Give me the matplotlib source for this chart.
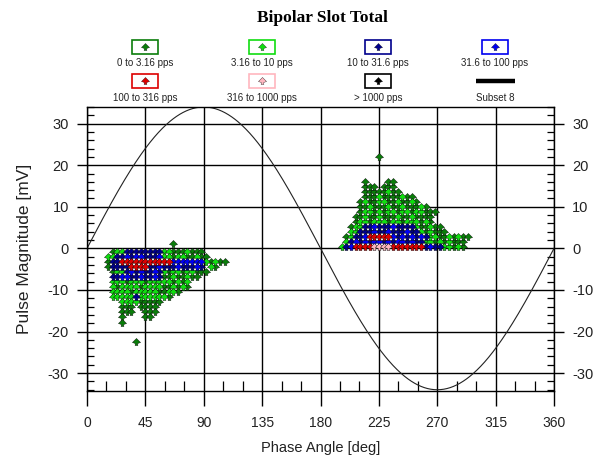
import matplotlib
matplotlib.use("Agg")
import matplotlib.pyplot as plt
import numpy as np
from matplotlib.patches import Rectangle
from matplotlib.path import Path
from matplotlib.ticker import MultipleLocator

plt.rcParams['font.family'] = ['Liberation Sans', 'DejaVu Sans']
plt.rcParams['axes.unicode_minus'] = False

# ---------------- data ----------------
TITLE = "Bipolar Slot Total"
X_LABEL = "Phase Angle [deg]"
Y_LABEL = "Pulse Magnitude [mV]"
X_TICKS = [0, 45, 90, 135, 180, 225, 270, 315, 360]
Y_TICKS = [-30, -20, -10, 0, 10, 20, 30]
X_LIM = (0, 360)
Y_LIM = (-34.3, 34.0)
SINE_AMPLITUDE = 34.0

CATEGORY_CODES = ['D', 'L', 'N', 'B', 'R', 'P', 'K']
CATEGORY_LABELS = ["0 to 3.16 pps", "3.16 to 10 pps", "10 to 31.6 pps",
                   "31.6 to 100 pps", "100 to 316 pps", "316 to 1000 pps",
                   "> 1000 pps"]
CATEGORY_COLORS = ['#0a7d0a', '#10dd10', '#00008c', '#0000f0',
                   '#dd0000', '#ffb6bf', '#000000']
SUBSET_LABEL = "Subset 8"

# negative half-cycle cluster: phase bins (deg), row magnitudes (mV), row codes
NEG_PHASE_BINS = [16.2, 19.8, 23.4, 27.0, 30.6, 34.2, 37.8, 41.4, 45.0, 48.6,
                  52.2, 55.8, 59.4, 63.0, 66.6, 70.2, 73.8, 77.4, 81.0, 84.6,
                  88.2, 91.8, 95.4, 99.0, 102.6, 106.2]
NEG_MAGNITUDES = [1.0, -0.8, -2.0, -3.2, -4.4, -5.6, -6.8, -8.0, -9.2, -10.4,
                  -11.6, -12.8, -14.0, -15.2, -16.4, -18.0, -22.4]
NEG_ROWS = [
    "..............D",
    ".DLLNNNNNNNNLLDDDLDDD",
    "LLNNBNBBNNNBLLDLLDDLDD",
    "DNNRRRRRRRRRRRBBBBBBBLDLDD",
    "DNNNNRRRRNNBNNNBNNNBN.LD",
    ".DLLNBNBNNBNLDLLDLLDDD",
    ".NNBBNNBNNBNDDLDDLDD",
    ".LLLDLLLDLLLLLDLDL",
    ".LDLLLLDLLLLDDLDLD",
    ".LLLLDLLLLLDDLLD",
    ".LLLLLNLLLLLLD",
    "...LLLLDDDDD",
    "...DDD.DDDD",
    "...DDD..DDD",
    "...D....DD",
    "...D",
    "......D",
]

# positive half-cycle cluster
POS_PHASE_BINS = [196.2, 199.8, 203.4, 207.0, 210.6, 214.2, 217.8, 221.4,
                  225.0, 228.6, 232.2, 235.8, 239.4, 243.0, 246.6, 250.2,
                  253.8, 257.4, 261.0, 264.6, 268.2, 271.8, 275.4, 279.0,
                  282.6, 286.2, 289.8, 293.4]
POS_MAGNITUDES = [0.4, 1.6, 2.8, 4.0, 5.2, 6.4, 7.6, 8.8, 10.0, 11.2, 12.4,
                  13.6, 14.8, 16.0, 22.0]
POS_ROWS = [
    "LNBRRRRPPPPRRRRRRRNBNNLLDLD",
    ".LNBNBNBBNBNBBNBNNLLDLDLDDD",
    ".DLNNBRRRRRBNBNBNBNLLDDLDLDD",
    "..LLNNNBNNBNNNBNNLDLDDD",
    "..DLLNNBNNNBNNNNLDDLDD",
    "...DLLDLLLDLLDLLLDLD",
    "...DDLDDLDDDLDDLDDDD",
    "....DLLDLDLLDLLDLLDDD",
    "....DDLDDDLDDLDDDLD",
    "....DLDDLLDDLDDLD",
    ".....DDDLDDDDLDD",
    ".....DDDDDLDD",
    ".....DDD.DDD",
    ".....D....DD",
    "........D",
]

# ---------------- build point lists ----------------
pts = {c: ([], []) for c in CATEGORY_CODES}
for bins, mags, rows in ((NEG_PHASE_BINS, NEG_MAGNITUDES, NEG_ROWS),
                         (POS_PHASE_BINS, POS_MAGNITUDES, POS_ROWS)):
    for mag, row in zip(mags, rows):
        for i, ch in enumerate(row):
            if ch in pts and i < len(bins):
                pts[ch][0].append(bins[i])
                pts[ch][1].append(mag)

# spade-like marker (wide diamond body with a short stem)
spade = Path([(0, 1.0), (1.0, 0.0), (0.3, -0.25), (0.35, -0.75),
              (-0.35, -0.75), (-0.3, -0.25), (-1.0, 0.0), (0, 1.0)],
             [Path.MOVETO] + [Path.LINETO] * 6 + [Path.CLOSEPOLY])

# ---------------- figure ----------------
W, H = 595, 459
fig = plt.figure(figsize=(W / 100, H / 100), dpi=100)
fig.patch.set_facecolor('white')

L, R, T, B = 87, 554, 107, 391
ax = fig.add_axes([L / W, 1 - B / H, (R - L) / W, (B - T) / H])
ax.set_xlim(*X_LIM)
ax.set_ylim(*Y_LIM)
ax.set_axisbelow(True)
ax.grid(True, which='major', color='black', lw=1.0)

# reference sine
xs = np.linspace(0, 360, 721)
ax.plot(xs, SINE_AMPLITUDE * np.sin(np.radians(xs)), color='#222222',
        lw=0.8, zorder=2)

for code, col in zip(CATEGORY_CODES, CATEGORY_COLORS):
    x, y = pts[code]
    if x:
        ax.scatter(x, y, marker=spade, s=34, c=col, edgecolors='#0a0a0a',
                   linewidths=0.3, zorder=3)

ax.set_xticks(X_TICKS)
ax.set_yticks(Y_TICKS)
ax.xaxis.set_minor_locator(MultipleLocator(15))
ax.yaxis.set_minor_locator(MultipleLocator(2))
ax.tick_params(axis='y', which='major', direction='out', length=7, width=1,
               left=True, right=True, labelleft=True, labelright=True,
               pad=6, labelsize=10.5, labelcolor='#222222')
ax.tick_params(axis='y', which='major', right=True, labelright=True, pad=9)
ax.tick_params(axis='y', which='major', left=True, pad=6)
for lab in ax.get_yticklabels(which='major'):
    pass
ax.tick_params(axis='y', which='minor', direction='in', length=5, width=0.9,
               left=True, right=True)
ax.tick_params(axis='x', which='major', direction='out', length=11, width=1,
               top=False, pad=7, labelsize=10, labelcolor='#222222')
ax.tick_params(axis='x', which='minor', direction='in', length=7.5, width=0.9,
               top=False)
for s in ax.spines.values():
    s.set_linewidth(1.0)
    s.set_color('black')

ax.set_xlabel(X_LABEL, fontsize=10.5, color='#222222', va='center')
ax.xaxis.set_label_coords(0.5, (B - 448) / (B - T))
ax.set_ylabel(Y_LABEL, fontsize=12.5, color='#222222', va='center')
ax.yaxis.set_label_coords((25 - L) / (R - L), 0.5)

fig.suptitle(TITLE, x=322 / W, y=1 - 18 / H, va='center',
             fontsize=12.5, fontweight='bold', family='Liberation Serif')

# ---------------- legend (drawn in pixel space) ----------------
lg = fig.add_axes([0, 0, 1, 1], zorder=5)
lg.set_xlim(0, W)
lg.set_ylim(H, 0)
lg.axis('off')
col_x = [145, 262, 378, 495]
box_y = [47, 80.5]
lab_y = [63, 98]
entries = list(zip(CATEGORY_LABELS, CATEGORY_COLORS))
for k, (lab, colr) in enumerate(entries):
    r, c = divmod(k, 4)
    cx, cy = col_x[c], box_y[r]
    lg.add_patch(Rectangle((cx - 13, cy - 7), 26, 14, fill=False,
                           edgecolor=colr, lw=1.2))
    lg.scatter([cx], [cy], marker=spade, s=34, c=colr, edgecolors='#111111',
               linewidths=0.25)
    lg.text(cx, lab_y[r], lab, ha='center', va='center', fontsize=7,
            color='#222222')
lg.plot([476, 515], [81, 81], color='black', lw=3.2, solid_capstyle='butt')
lg.text(col_x[3], lab_y[1], SUBSET_LABEL, ha='center', va='center',
        fontsize=7, color='#222222')

fig.savefig("out.png", dpi=100)
